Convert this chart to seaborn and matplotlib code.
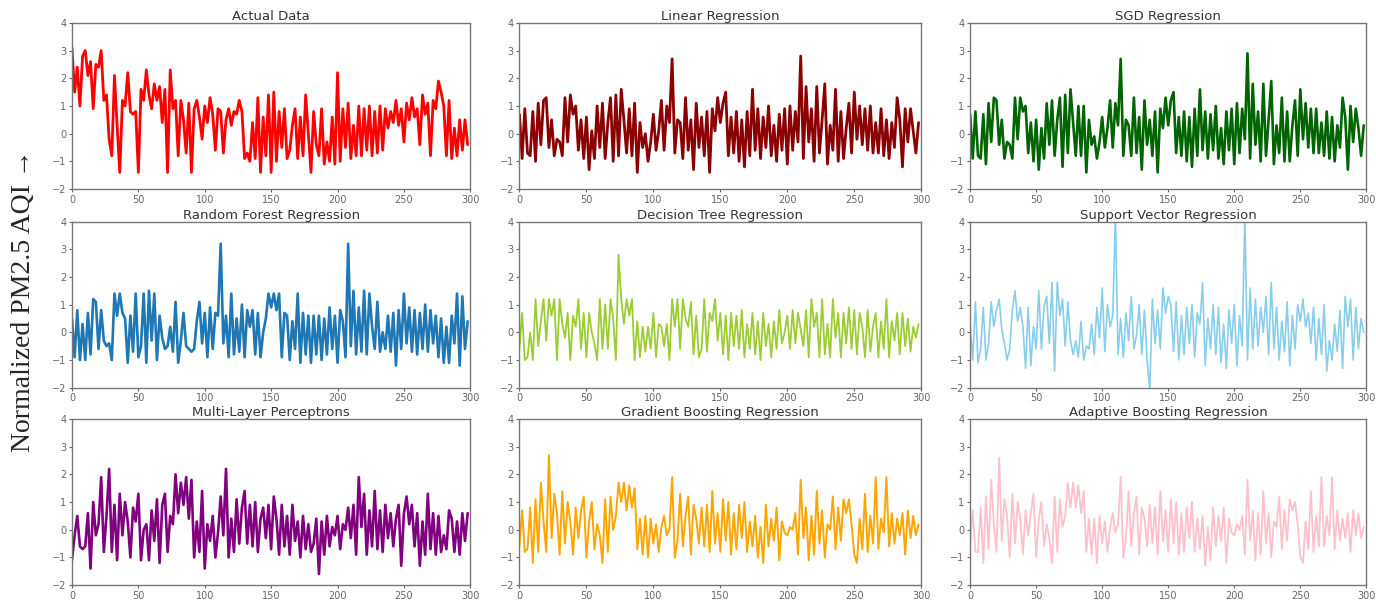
import numpy as np
import pandas as pd
import seaborn as sns
import matplotlib.pyplot as plt

# sample index (every 2nd test sample)
steps = list(range(0, 300, 2))

actual = [3.1, 1.5, 2.4, 1.0, 2.8, 3.0, 2.1, 2.6, 0.9, 2.5,
          2.4, 3.0, 1.2, 1.4, -0.2, -0.8, 2.1, 0.3, -1.4, 1.2,
          1.0, 2.2, 0.8, 0.7, 0.8, -1.4, 1.6, 1.2, 2.3, 1.4,
          0.9, 1.8, 1.2, 1.7, 0.4, 1.6, -1.4, 2.3, 0.9, 1.2,
          -0.8, 1.2, 0.5, -0.7, 1.1, -1.4, 0.9, 1.2, 0.6, -0.2,
          1.0, 0.4, 1.3, 0.7, -0.6, 0.9, 0.8, -0.7, 0.5, 0.9,
          0.3, 0.8, 0.7, 1.2, 0.8, -0.9, -0.7, -1.0, 0.4, -0.9,
          1.3, -1.4, 0.6, -0.8, 1.4, -1.4, 1.5, -1.0, 0.8, -0.5,
          0.9, -0.9, -0.6, 0.3, 0.9, -0.9, 0.6, -0.8, 1.4, 0.0,
          -1.4, 0.8, -0.4, -0.8, 0.9, -1.1, -0.3, -1.0, 0.6, -1.1,
          2.2, -1.0, 0.9, -0.5, 1.1, -0.9, 0.3, -0.8, 1.0, -0.8,
          0.9, -0.6, 1.0, -0.8, 0.8, -0.7, 1.0, -0.6, 0.9, 0.2,
          0.8, 0.4, 1.2, 0.3, 0.9, -0.3, 1.1, 0.5, 1.3, 0.6,
          0.9, -0.4, 1.4, 0.7, 1.1, -0.8, 1.2, 0.9, 1.9, 1.5,
          1.0, -0.8, 1.2, -0.9, 0.2, -0.8, 0.5, -0.6, 0.5, -0.4]

linear = [0.7, -0.9, 0.9, -0.7, -0.8, 0.8, -1.0, 1.1, -0.4, 1.2,
          1.3, -0.5, 0.5, -0.8, -0.2, -0.3, -0.8, 1.3, -0.3, 1.4,
          0.7, 1.0, -0.6, 0.5, -0.9, 0.6, -1.3, 0.1, -0.9, 1.0,
          -0.5, 1.1, -0.9, 0.4, 1.3, -1.0, 1.4, -0.8, 1.6, 0.5,
          -0.7, 0.9, -0.8, 1.1, -1.4, 0.4, -0.5, 0.0, -1.0, -0.3,
          0.7, -0.6, 0.1, 1.2, -0.6, 1.0, 0.4, 2.7, -0.7, 0.5,
          0.4, -0.9, 1.3, -0.6, 0.5, -1.3, 1.1, -0.5, 0.6, -0.8,
          0.8, -1.4, 0.9, 0.1, 1.3, 0.4, 1.1, 1.5, -0.8, 0.6,
          -0.7, 0.8, -1.0, 0.5, -1.2, 0.8, -0.8, 1.6, -0.6, 0.9,
          -0.9, 0.6, -0.5, 1.0, -0.8, 0.3, -1.0, 0.7, -0.6, 0.9,
          -1.1, 1.0, -0.6, 0.8, -0.3, 2.8, -0.9, 1.7, -0.3, 0.9,
          -1.0, 1.7, -0.7, 0.5, 1.8, -1.1, 0.3, -0.6, 1.6, -1.0,
          0.8, -0.9, 0.2, 1.1, -0.7, 1.5, -0.2, 1.0, -0.4, 0.9,
          -0.6, 1.0, -0.7, 0.4, -0.7, 0.9, -0.8, 0.5, -0.9, 0.4,
          -0.5, 1.3, 0.5, -1.2, 0.9, -0.3, 0.9, 0.1, -0.7, 0.4]

sgd = [0.7, -0.9, 0.8, -0.8, -0.9, 0.7, -1.1, 1.1, -0.3, 1.3,
       1.2, -0.4, 0.5, -0.9, -0.3, -0.4, -0.9, 1.3, -0.2, 1.3,
       0.8, 1.0, -0.7, 0.4, -1.0, 0.5, -1.3, 0.2, -0.9, 1.1,
       -0.4, 1.2, -0.8, 0.5, 1.3, -1.2, 1.4, -0.7, 1.6, 0.4,
       -0.8, 1.0, -0.8, 1.0, -1.4, 0.5, -0.4, -0.1, -0.9, -0.3,
       0.6, -0.5, 0.2, 1.2, -0.5, 1.1, 0.3, 2.7, -0.8, 0.5,
       0.3, -0.8, 1.3, -0.7, 0.6, -1.3, 1.2, -0.4, 0.5, -0.8,
       0.8, -1.4, 0.9, 0.2, 1.3, 0.3, 1.2, 1.5, -0.7, 0.6,
       -0.8, 0.8, -1.0, 0.6, -1.2, 0.9, -0.8, 1.6, -0.6, 0.8,
       -0.9, 0.7, -0.6, 1.0, -0.9, 0.2, -1.1, 0.8, -0.6, 0.9,
       -1.1, 1.1, -0.7, 0.9, -0.2, 2.9, -0.9, 1.8, -0.4, 0.8,
       -1.0, 1.8, -0.8, 0.5, 1.9, -1.1, 0.3, -0.7, 1.3, -1.0,
       0.8, -1.0, 0.3, 1.2, -0.8, 1.6, -0.2, 1.1, -0.5, 0.9,
       -0.7, 0.9, -0.7, 0.4, -0.8, 0.8, -0.9, 0.6, -1.0, 0.3,
       -0.5, 1.3, 0.6, -1.3, 1.0, -0.3, 0.9, 0.2, -0.8, 0.3]

random_forest = [0.5, -0.9, 0.8, -1.0, 0.3, -1.0, 0.7, -0.8, 1.2, 1.1,
                 -0.6, 0.8, -0.3, -0.5, -0.4, -1.0, 1.4, 0.6, 1.4, 0.7,
                 0.5, -1.1, 0.6, -0.7, 1.4, -0.9, -0.5, 1.4, -1.1, 1.5,
                 -0.3, 1.4, -1.0, 0.6, -0.2, -0.6, -0.5, 0.2, -0.7, 1.1,
                 -1.1, -0.3, 0.7, -0.5, -0.6, -0.7, -0.6, 0.4, 1.1, -0.4,
                 0.7, -0.9, 0.9, -0.6, 0.7, 0.6, 3.2, -0.4, 0.6, -0.9,
                 1.4, -0.8, 0.5, -0.7, 1.0, -0.9, 0.8, 0.2, 0.8, -0.8,
                 0.7, -0.9, 0.0, 0.5, 1.4, 0.9, 1.4, 0.8, 1.4, -0.9,
                 0.7, 0.6, -1.0, 0.4, -0.6, 1.4, -1.1, 0.7, -0.8, 0.6,
                 -1.1, 0.6, -0.8, 0.6, -1.0, 0.5, -0.8, 0.9, -0.6, 0.6,
                 -1.1, 0.8, 0.4, -0.9, 3.2, -0.5, 1.5, -0.8, 0.9, -0.7,
                 1.5, -0.8, 1.4, 0.2, -0.6, 1.1, -0.7, 0.0, -0.6, 0.6,
                 -0.7, 0.7, -1.2, 0.8, -0.6, 1.4, -0.4, 0.9, -0.7, 0.8,
                 -0.8, 0.7, -0.6, 1.0, -0.7, 0.8, -0.4, 0.6, -0.9, 0.5,
                 -1.1, 0.2, -1.1, 0.6, -0.4, 1.4, -1.2, 1.3, -0.6, 0.4]

decision_tree = [-0.6, 0.7, -1.0, -0.9, 0.0, -1.0, 1.2, -0.5, 0.4, 1.2,
                 -0.3, 1.2, 0.6, 1.2, -1.0, 1.2, 0.3, -0.2, 0.7, -1.0,
                 0.6, 0.2, 1.2, -0.6, 0.7, -0.9, 0.7, 0.0, -0.4, -1.0,
                 1.2, -0.6, 1.0, -0.6, 1.2, 0.5, -1.0, 2.8, 1.2, 0.3,
                 1.2, 0.6, 1.2, -1.0, 0.4, -0.9, 0.2, -0.7, 0.2, -0.6,
                 0.7, -0.9, 0.3, 0.2, -0.5, 0.3, -1.0, 1.2, 0.2, 1.2,
                 -0.6, 1.2, 0.5, 0.2, 1.1, -0.8, 0.6, -0.9, -0.6, 1.2,
                 -0.7, 0.7, 0.4, 1.2, -0.3, 0.7, -0.8, 0.6, -1.0, 0.7,
                 -0.5, 0.6, -0.6, 0.8, -0.9, 0.3, -0.6, 0.7, -0.8, 0.4,
                 -1.0, 0.7, -0.5, 0.3, -0.9, 0.4, -0.6, 0.8, -0.4, 0.0,
                 0.6, -0.6, 0.8, -0.4, 0.7, 0.1, -0.5, 0.8, -0.9, 1.2,
                 0.2, 0.7, -0.9, 1.2, -0.8, 0.3, -0.9, 1.2, -0.2, 0.7,
                 -0.9, 0.7, -0.4, 0.9, -0.6, 0.8, -0.8, 0.7, 0.2, -0.9,
                 0.8, -0.7, 0.2, 0.7, -0.9, 0.4, -0.6, 1.2, -0.9, 0.4,
                 -0.3, 0.7, -0.8, 0.7, -0.5, 0.5, -0.7, 0.2, -0.2, 0.3]

support_vector = [0.3, -1.0, 1.1, -1.1, -0.6, 0.9, -1.0, -0.4, 1.1, 0.2,
                  0.8, 1.2, 0.1, -0.4, -1.0, -0.6, 0.8, 1.5, 0.4, 0.9,
                  0.2, -1.3, 0.9, -1.2, 0.2, -0.6, 1.5, -0.6, 0.9, 1.3,
                  -0.4, 1.8, -1.4, 1.8, 0.6, 1.2, -0.5, 1.1, -0.3, -0.8,
                  -0.3, -0.9, 0.4, -1.0, -0.5, -0.6, 0.3, -0.8, 0.9, -0.2,
                  1.6, -0.7, 1.0, 0.2, 0.6, 4.2, -0.8, 0.5, -0.9, 0.7,
                  -0.3, 1.3, -0.6, -0.1, 1.0, -0.8, 0.8, -1.0, -2.1, 1.2,
                  -0.4, 0.8, -0.6, 1.6, 0.7, 1.3, 1.0, -0.7, 1.1, -1.0,
                  0.6, -0.8, 0.9, -0.4, 1.0, -0.9, 0.7, 0.3, 1.8, -1.2,
                  0.5, -0.6, 1.0, -0.8, 0.9, -1.1, 0.3, -1.3, 0.8, -0.4,
                  1.0, -1.2, 0.6, -0.5, 4.2, -1.0, 1.6, -0.6, 1.2, -0.5,
                  0.9, 0.0, 1.3, -0.8, 1.8, -0.6, 0.9, -1.0, 0.4, -0.7,
                  1.1, -1.2, 0.6, -0.6, 1.0, 0.4, 1.2, 0.2, 0.7, -0.4,
                  0.9, -1.0, 0.5, -0.8, 1.0, -1.4, -0.3, -1.0, 0.3, -0.7,
                  0.8, -1.3, 1.3, 0.2, 1.2, -1.0, 0.9, -0.6, 0.5, 0.0]

mlp = [-1.1, -0.2, 0.5, -0.6, -0.7, -0.6, 0.6, -1.4, 1.0, -0.2,
       0.2, 1.9, -0.8, 0.5, 2.2, -0.8, 0.9, -1.1, 1.3, -0.2,
       1.0, 0.3, -1.0, 0.8, 0.3, 1.3, -1.1, 0.0, 0.2, -1.1,
       0.7, -0.4, 1.1, -1.2, 0.9, 1.3, -0.8, 0.5, 0.2, 2.0,
       0.6, 1.7, 0.9, 1.9, 0.4, 1.8, -1.0, 0.3, -0.8, 1.4,
       -1.4, 0.2, -0.4, 0.5, -1.0, -0.1, 1.2, -0.2, 2.2, -1.0,
       0.4, -0.8, 1.1, -0.5, 0.8, 1.4, -0.5, 0.9, -0.6, 1.0,
       -0.8, 0.4, 0.8, -0.3, 0.9, -0.7, 1.2, 0.4, -0.9, 0.9,
       -0.6, 0.5, -0.9, 0.9, -0.4, 0.3, -1.0, 0.5, -0.7, 0.2,
       -0.8, -0.5, 0.4, -1.6, 0.3, -0.9, 0.5, -0.6, 0.1, -0.2,
       0.5, -0.7, 0.2, 0.0, 0.8, -0.3, 0.9, -0.9, 1.9, 0.1,
       1.3, -0.9, 0.7, -0.6, 1.4, -0.7, 0.7, -0.8, 0.9, -0.3,
       0.6, -0.6, 0.4, 0.9, -1.3, 0.6, 1.2, 0.2, 0.9, -0.6,
       0.6, -1.3, 0.3, -0.9, 1.3, -0.7, 0.6, -0.9, 0.5, -0.8,
       -0.2, -0.7, 0.7, 0.4, -0.8, 0.3, -0.9, 0.6, -0.4, 0.6]

gradient_boosting = [-0.6, 0.7, -0.8, -0.7, 0.8, -1.2, 1.1, -0.8, 1.7, 0.3,
                     -0.8, 2.7, -0.3, 1.3, 0.6, -0.9, 1.4, -0.5, 1.0, 0.3,
                     -0.9, 0.8, -0.3, 0.7, 1.2, -1.0, 0.3, 1.0, -0.7, 0.2,
                     -0.2, -1.2, 1.1, -0.8, 1.2, 0.0, 0.5, 1.7, 1.0, 1.7,
                     0.7, 1.6, 0.8, 1.5, -0.7, 0.4, -0.9, 0.5, -1.0, 0.4,
                     -0.5, 0.2, -0.8, 0.1, 0.5, -0.2, 0.0, 1.9, -1.0, -0.4,
                     1.3, -0.6, 0.5, 1.2, -0.9, 0.9, 0.4, -0.5, 0.8, -0.6,
                     0.9, -0.8, 1.4, -0.5, 0.6, -0.8, 1.1, -0.4, 1.0, -0.9,
                     0.6, -0.7, 0.9, -0.3, 1.0, -0.8, 0.3, -0.6, 0.5, -1.0,
                     0.1, -1.2, 0.9, -0.6, 0.4, -0.4, 0.8, -1.1, 0.3, -0.1,
                     -0.2, 0.1, 0.0, 0.6, -0.9, 1.8, -0.3, 0.8, -1.1, 0.5,
                     -0.9, 1.4, -0.5, 0.7, -1.0, 0.2, 0.0, 1.2, -0.7, 0.8,
                     -0.4, 1.1, 0.6, 1.1, 0.2, -0.9, -1.2, 0.4, -0.7, 1.3,
                     -0.8, 0.5, -0.5, 1.9, -0.7, 0.4, -0.1, 1.9, -0.6, 0.6,
                     -0.5, 0.4, -0.2, 0.6, -0.9, 0.7, -0.3, 0.5, -0.2, 0.2]

adaptive_boosting = [-0.5, 0.7, -0.8, -0.8, 0.8, -1.2, 1.2, -0.7, 1.8, 0.2,
                     -0.8, 2.6, -0.4, 1.1, 0.5, -1.0, 1.3, -0.5, 1.0, 0.4,
                     -0.9, 0.7, -0.2, 0.6, 1.3, -1.0, 0.4, 1.0, -0.6, 0.2,
                     -0.3, -1.2, 1.2, -0.8, 1.1, 0.1, 0.5, 1.7, 0.8, 1.7,
                     0.8, 1.6, 0.6, 1.4, -0.8, 0.4, -0.9, 0.4, -1.2, 0.5,
                     -0.5, 0.3, -0.8, 0.1, 0.6, -0.1, 0.2, 1.9, -1.0, -0.3,
                     1.4, -0.6, 0.6, 1.2, -0.9, 0.8, 0.4, -0.6, 0.9, -0.5,
                     0.8, -0.9, 1.4, -0.4, 0.7, -0.8, 1.1, -0.5, 1.0, -0.9,
                     0.6, -0.8, 0.8, -0.3, 1.0, -0.8, 0.4, -0.7, 0.5, -1.3,
                     0.1, -1.1, 0.8, -0.6, 0.5, -0.4, 0.8, -1.2, 0.4, -0.1,
                     -0.2, 0.2, 0.0, 0.5, -0.9, 1.8, -0.4, 0.7, -1.1, 0.6,
                     -0.9, 1.4, -0.5, 0.6, -1.0, 0.3, 0.1, 1.2, -0.7, 0.7,
                     -0.4, 1.1, 0.7, 1.0, 0.2, -1.0, -1.2, 0.3, -0.7, 1.4,
                     -0.8, 0.5, -0.6, 1.9, -0.6, 0.5, -0.2, 1.9, -0.7, 0.7,
                     -0.4, 0.4, -0.3, 0.6, -0.8, 0.7, -0.2, 0.6, -0.3, 0.1]

titles = ["Actual Data", "Linear Regression", "SGD Regression",
          "Random Forest Regression", "Decision Tree Regression", "Support Vector Regression",
          "Multi-Layer Perceptrons", "Gradient Boosting Regression", "Adaptive Boosting Regression"]
series = [actual, linear, sgd, random_forest, decision_tree, support_vector,
          mlp, gradient_boosting, adaptive_boosting]
colors = ["red", "darkred", "darkgreen", "#1f77b4", "yellowgreen", "skyblue",
          "purple", "orange", "pink"]
widths = [2.0, 2.0, 1.9, 1.9, 1.3, 1.2, 1.9, 1.4, 1.3]

sns.set_style("ticks")

fig = plt.figure(figsize=(13.76, 6.02), dpi=100)

# axes boxes in figure fractions
lefts = [0.0523, 0.3775, 0.7050]
col_w = [0.2895, 0.2920, 0.2880]
bottoms = [0.686, 0.356, 0.028]
row_h = 0.276

for i, (name, vals) in enumerate(zip(titles, series)):
    r, c = divmod(i, 3)
    ax = fig.add_axes([lefts[c], bottoms[r], col_w[c], row_h])
    df = pd.DataFrame({"step": steps, "value": vals})
    sns.lineplot(data=df, x="step", y="value", ax=ax, color=colors[i], lw=widths[i])
    ax.set_xlim(0, 300)
    ax.set_ylim(-2, 4)
    ax.set_xticks(range(0, 301, 50))
    ax.set_yticks(range(-2, 5))
    ax.set_xlabel("")
    ax.set_ylabel("")
    ax.set_title(name, fontsize=9.5, color="#333333", pad=2)
    ax.tick_params(labelsize=7, colors="#666666", length=2, pad=2)
    for s in ax.spines.values():
        s.set_color("#777777")
        s.set_linewidth(1.0)

fig.text(0.017, 0.5, "Normalized PM2.5 AQI \u2192", rotation=90, va="center", ha="center",
         fontsize=20, family=["Liberation Serif", "DejaVu Serif"])

fig.savefig("out.png", dpi=100)
